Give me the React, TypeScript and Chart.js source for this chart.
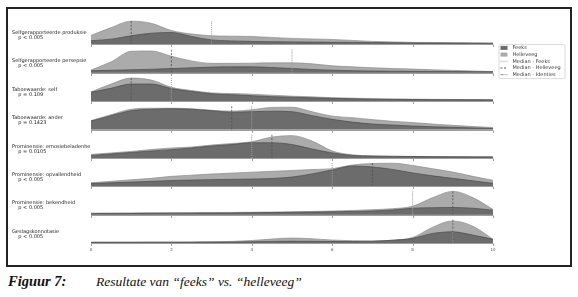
import React, { useEffect, useLayoutEffect, useRef } from 'react';
import { Chart, registerables } from 'chart.js';

Chart.register(...registerables);

// ---------- data ----------
const xs = [0, 0.5, 1, 1.5, 2, 2.5, 3, 3.5, 4, 4.5, 5, 5.5, 6, 6.5, 7, 7.5, 8, 8.5, 9, 9.5, 10];
const xTicks = [0, 2, 4, 6, 8, 10];

const rowLabels = [
  'Selfgerapporteerde produksie',
  'Selfgerapporteerde persepsie',
  'Taboewaarde: self',
  'Taboewaarde: ander',
  'Prominensie: emosiebeladenheid',
  'Prominensie: opvallendheid',
  'Prominensie: bekendheid',
  'Geslagskonnotasie',
];
const pValues = ['p < 0.005', 'p < 0.005', 'p = 0.109', 'p = 0.1423', 'p = 0.0105', 'p < 0.005', 'p < 0.005', 'p < 0.005'];

// density estimates (arbitrary units) at xs
const helleveeg1 = [9, 17, 23.5, 21.3, 14, 10.5, 8.7, 8.3, 8, 7, 6, 5.5, 5, 4, 3, 2.5, 2, 1.8, 1.6, 1.5, 1.4];
const feeks1 = [3.7, 5.3, 8.7, 11.3, 12, 8, 4.5, 3.5, 3, 2.7, 2.5, 2.3, 2.1, 2, 1.8, 1.6, 1.5, 1.4, 1.3, 1.2, 1];
const helleveeg2 = [2.7, 11, 21.7, 22, 16.7, 12, 9.5, 9.5, 9.7, 10, 10, 9, 7, 6, 5, 4.3, 3.7, 3, 2.4, 1.8, 1.2];
const feeks2 = [2, 2.5, 3, 3.5, 4.2, 5, 5.7, 6, 6, 5.3, 4.3, 3.3, 2.6, 2.1, 1.8, 1.6, 1.4, 1.3, 1.2, 1.1, 1];
const helleveeg3 = [9.3, 17.3, 23.3, 21.3, 14, 10.7, 8.3, 7.7, 7, 6, 5, 4.3, 3.5, 3, 2.5, 2.2, 2, 1.8, 1.7, 1.6, 1.5];
const feeks3 = [9, 13, 17.3, 17.3, 12.7, 9.8, 7.5, 6.5, 5.5, 4.5, 4, 3.3, 2.8, 2.4, 2, 1.8, 1.6, 1.5, 1.4, 1.3, 1.2];
const helleveeg4 = [9, 15, 20.5, 21.5, 21.5, 21, 19.5, 18.5, 20, 22.3, 22.5, 18, 13.5, 12, 10, 8.3, 7, 5.5, 4.2, 3, 2];
const feeks4 = [8.5, 14, 19, 20.5, 21, 20.5, 19, 17.5, 18, 18.5, 18, 14, 10.3, 7.5, 5.5, 4.5, 3.5, 2.8, 2.2, 1.6, 1];
const helleveeg5 = [3.5, 5, 6.5, 8.5, 10, 11, 13, 14.5, 16.3, 21, 22.5, 17, 7, 3, 2, 1.7, 1.5, 1.3, 1.2, 1.1, 1];
const feeks5 = [2.5, 4, 5.5, 7, 8.3, 10, 12, 13.5, 15.3, 15.3, 13.5, 9, 5, 2.5, 1.8, 1.5, 1.3, 1.2, 1.1, 1, 1];
const helleveeg6 = [3.5, 5, 6.5, 8, 10, 11.2, 12.4, 13.3, 14.2, 15.1, 16, 16.9, 17.8, 21.5, 23, 23.3, 21, 17.7, 14.3, 10, 6];
const feeks6 = [2.7, 3.5, 4.2, 5, 5.8, 6.3, 6.7, 7, 7.3, 7.8, 9.3, 12.5, 16.5, 20.5, 19.5, 17, 13.5, 10.5, 8, 5.5, 3];
const helleveeg7 = [1.5, 1.6, 1.7, 1.8, 1.9, 2, 2.1, 2.2, 2.4, 2.6, 2.9, 3.2, 3.6, 4.2, 5, 6, 8.5, 17.2, 23.5, 17.2, 5.2];
const feeks7 = [1, 1.1, 1.2, 1.3, 1.4, 1.5, 1.6, 1.7, 1.9, 2.1, 2.3, 2.6, 2.9, 3.2, 3.7, 4.7, 6.5, 7, 7.2, 6.5, 4.5];
const helleveeg8 = [0.8, 0.8, 0.8, 0.9, 0.9, 1, 1.2, 1.6, 2.5, 4, 5, 4.3, 3, 2.3, 2, 2.8, 5.5, 16, 22.3, 17, 3.7];
const feeks8 = [0.7, 0.7, 0.7, 0.8, 0.8, 0.8, 0.9, 1, 1.3, 1.6, 1.8, 1.7, 1.5, 1.5, 1.8, 2.8, 4.7, 9.7, 11.3, 8, 3.7];

const helleveegSeries = [helleveeg1, helleveeg2, helleveeg3, helleveeg4, helleveeg5, helleveeg6, helleveeg7, helleveeg8];
const feeksSeries = [feeks1, feeks2, feeks3, feeks4, feeks5, feeks6, feeks7, feeks8];

const medianFeeks = [3, 5, 2, 4, 4, 6, 8, 9];
const medianHelleveeg = [1, 2, 1, 3.5, 4.5, 7, 9, 9];

// ---------- styles ----------
const DENSITY_PER_ROW = 28.7;
const MEDIAN_HEIGHT = 0.84;
const LABEL_OFFSET = 0.32;
const LIGHT = '#ababab';
const DARK = '#6c6c6c';
const MED_FEEKS = { color: '#9c9c9c', dash: [1, 1] };
const MED_HELLE = { color: '#555555', dash: [2, 1.5] };
const MED_IDENT = { color: '#8a8a8a', dash: [3, 1, 1, 1] };
const FONT = 'DejaVu Sans';

const nRows = rowLabels.length;
const baseOf = (k: number) => nRows - 1 - k;

const legendItems = [
  { label: 'Feeks', kind: 'patch', color: DARK, dash: [] as number[] },
  { label: 'Helleveeg', kind: 'patch', color: LIGHT, dash: [] as number[] },
  { label: 'Median - Feeks', kind: 'line', color: MED_FEEKS.color, dash: MED_FEEKS.dash },
  { label: 'Median - Helleveeg', kind: 'line', color: MED_HELLE.color, dash: MED_HELLE.dash },
  { label: 'Median - Identies', kind: 'line', color: MED_IDENT.color, dash: MED_IDENT.dash },
];

const ridgeAxes = {
  id: 'ridgeAxes',
  afterDatasetsDraw(chart: any) {
    const { ctx, scales } = chart;
    const x = scales.x;
    const y = scales.y;
    ctx.save();
    ctx.strokeStyle = '#9e9e9e';
    ctx.lineWidth = 1;
    for (let k = 0; k < nRows; k++) {
      const py = Math.round(y.getPixelForValue(baseOf(k))) + 0.5;
      ctx.beginPath();
      ctx.moveTo(x.getPixelForValue(xTicks[0]), py);
      ctx.lineTo(x.getPixelForValue(xTicks[xTicks.length - 1]), py);
      xTicks.forEach((t) => {
        const px = Math.round(x.getPixelForValue(t)) + 0.5;
        ctx.moveTo(px, py);
        ctx.lineTo(px, py + 2.5);
      });
      ctx.stroke();
    }
    ctx.restore();
  },
};

const boxLegend = {
  id: 'boxLegend',
  afterDraw(chart: any) {
    const { ctx, chartArea } = chart;
    const left = chartArea.right + 6;
    const top = chartArea.top + 28.6;
    const w = 66;
    const h = 34;
    ctx.save();
    ctx.strokeStyle = '#cfcfcf';
    ctx.lineWidth = 0.8;
    ctx.beginPath();
    ctx.roundRect(left, top, w, h, 1.5);
    ctx.stroke();
    ctx.font = `5px "${FONT}"`;
    ctx.textBaseline = 'middle';
    ctx.textAlign = 'left';
    legendItems.forEach((it, i) => {
      const cy = top + 3.3 + i * 6.7;
      if (it.kind === 'patch') {
        ctx.fillStyle = it.color;
        ctx.fillRect(left + 1.5, cy - 2, 7, 4);
      } else {
        ctx.strokeStyle = it.color;
        ctx.lineWidth = 1;
        ctx.setLineDash(it.dash);
        ctx.beginPath();
        ctx.moveTo(left + 1.5, cy);
        ctx.lineTo(left + 8.5, cy);
        ctx.stroke();
        ctx.setLineDash([]);
      }
      ctx.fillStyle = '#3a3a3a';
      ctx.fillText(it.label, left + 13.5, cy);
    });
    ctx.restore();
  },
};

export default function App() {
  const ref = useRef<HTMLCanvasElement>(null);

  useLayoutEffect(() => {
    document.body.style.margin = '0';
  }, []);

  useEffect(() => {
    if (!ref.current) return;
    const datasets: any[] = [];
    for (let k = 0; k < nRows; k++) {
      const b = baseOf(k);
      datasets.push({
        label: 'Helleveeg',
        data: xs.map((x, i) => ({ x, y: b + helleveegSeries[k][i] / DENSITY_PER_ROW })),
        backgroundColor: LIGHT,
        borderColor: '#8c8c8c',
        borderWidth: 0.7,
        fill: { value: b },
        order: 3,
      });
      datasets.push({
        label: 'Feeks',
        data: xs.map((x, i) => ({ x, y: b + feeksSeries[k][i] / DENSITY_PER_ROW })),
        backgroundColor: DARK,
        borderColor: '#4a4a4a',
        borderWidth: 0.7,
        fill: { value: b },
        order: 2,
      });
      datasets.push({
        label: 'Median - Helleveeg',
        data: [{ x: medianHelleveeg[k], y: b }, { x: medianHelleveeg[k], y: b + MEDIAN_HEIGHT }],
        borderColor: MED_HELLE.color,
        borderDash: MED_HELLE.dash,
        borderWidth: 0.9,
        fill: false,
        order: 1,
      });
      datasets.push({
        label: 'Median - Feeks',
        data: [{ x: medianFeeks[k], y: b }, { x: medianFeeks[k], y: b + MEDIAN_HEIGHT }],
        borderColor: MED_FEEKS.color,
        borderDash: MED_FEEKS.dash,
        borderWidth: 1,
        fill: false,
        order: 0,
      });
    }

    const chart = new Chart(ref.current, {
      type: 'line',
      data: { datasets },
      options: {
        responsive: false,
        animation: false,
        devicePixelRatio: 1,
        layout: { padding: { left: 4, top: 5.4, right: 76, bottom: 0 } },
        elements: {
          point: { radius: 0 },
          line: { cubicInterpolationMode: 'monotone' },
        },
        plugins: {
          legend: { display: false },
          tooltip: { enabled: false },
        },
        scales: {
          x: {
            type: 'linear',
            min: 0,
            max: 10,
            grid: { display: false, drawTicks: false },
            border: { display: false },
            afterBuildTicks: (s: any) => {
              s.ticks = xTicks.map((v) => ({ value: v }));
            },
            afterFit: (s: any) => {
              s.height = 20;
            },
            ticks: {
              padding: 5,
              color: '#555',
              font: { family: FONT, size: 4 },
              maxRotation: 0,
              autoSkip: false,
            },
          },
          y: {
            type: 'linear',
            min: 0,
            max: nRows,
            grid: { display: false, drawTicks: false },
            border: { display: false },
            afterBuildTicks: (s: any) => {
              s.ticks = rowLabels.map((_, k) => ({ value: baseOf(k) + LABEL_OFFSET }));
            },
            afterFit: (s: any) => {
              s.width = 79;
            },
            ticks: {
              crossAlign: 'far',
              autoSkip: false,
              color: '#222',
              font: { family: FONT, size: 5, lineHeight: 1 },
              callback: (value: any) => {
                const k = Math.round(nRows - 1 - (Number(value) - LABEL_OFFSET));
                return [rowLabels[k], '    ' + pValues[k]];
              },
            },
          },
        },
      },
      plugins: [ridgeAxes, boxLegend],
    } as any);
    return () => chart.destroy();
  }, []);

  return (
    <div style={{ position: 'relative', width: 578, height: 297, overflow: 'hidden' }}>
      <canvas ref={ref} width={561} height={255} style={{ position: 'absolute', left: 8, top: 8, width: 561, height: 255 }} />
      <div
        style={{
          position: 'absolute',
          left: 6,
          top: 6.5,
          width: 566,
          height: 260,
          border: '2.5px solid #222',
          boxSizing: 'border-box',
          pointerEvents: 'none',
          zIndex: 2,
        }}
      />
      <div
        style={{
          position: 'absolute',
          left: 8,
          top: 273,
          fontFamily: '"Liberation Serif", "Times New Roman", serif',
          fontStyle: 'italic',
          color: '#111',
          whiteSpace: 'nowrap',
          lineHeight: '16px',
        }}
      >
        <span style={{ fontWeight: 'bold', display: 'inline-block', width: 88, fontSize: 14.5 }}>Figuur 7:</span>
        <span style={{ fontSize: 13.5 }}>Resultate van {'\u201C'}feeks{'\u201D'} vs. {'\u201C'}helleveeg{'\u201D'}</span>
      </div>
    </div>
  );
}
